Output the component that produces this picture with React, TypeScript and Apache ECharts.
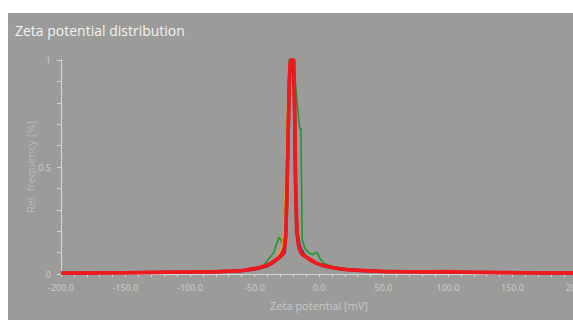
import React, { useEffect, useRef } from "react";
import * as echarts from "echarts";

const titleText = "Zeta potential distribution";
const xName = "Zeta potential [mV]";
const yName = "Rel. frequency [%]";

// [zeta potential mV, relative frequency]
const greenSeries: [number, number][] = [
  [-200, 0.004], [-150, 0.006], [-100, 0.009], [-80, 0.011], [-60, 0.016], [-50, 0.022],
  [-44, 0.035], [-39, 0.07], [-35, 0.1], [-33, 0.14], [-31, 0.17], [-29.5, 0.16],
  [-28.5, 0.14], [-27, 0.18], [-26, 0.32], [-25, 0.56], [-24, 0.85], [-23, 1.0],
  [-21, 1.0], [-19, 0.95], [-17, 0.8], [-15, 0.68], [-14, 0.68], [-13.5, 0.4],
  [-13, 0.16], [-11, 0.12], [-8, 0.1], [-5, 0.09], [-3, 0.1], [-1.5, 0.1],
  [1, 0.07], [4, 0.05], [8, 0.04], [12, 0.033], [16, 0.03], [22, 0.022],
  [30, 0.018], [40, 0.014], [60, 0.01], [80, 0.009], [100, 0.008], [130, 0.006],
  [160, 0.005], [200, 0.004],
];

const navySeries: [number, number][] = [
  [-200, 0.004], [-150, 0.006], [-100, 0.009], [-80, 0.011], [-60, 0.015], [-50, 0.02],
  [-44, 0.03], [-39, 0.045], [-34, 0.065], [-30, 0.09], [-28, 0.12], [-26.5, 0.2],
  [-25.5, 0.4], [-24.5, 0.65], [-23.5, 0.92], [-22.5, 1.0], [-20.5, 1.0], [-19.5, 0.85],
  [-18.5, 0.55], [-17.5, 0.3], [-16, 0.18], [-14.5, 0.13], [-13, 0.11], [-11, 0.09],
  [-8, 0.07], [-5, 0.06], [-2, 0.05], [2, 0.04], [8, 0.03], [15, 0.022],
  [25, 0.017], [40, 0.012], [60, 0.009], [80, 0.008], [95, 0.01], [100, 0.012],
  [105, 0.008], [130, 0.006], [160, 0.005], [200, 0.004],
];

const orangeSeries: [number, number][] = [
  [-200, 0.004], [-150, 0.006], [-100, 0.009], [-80, 0.011], [-60, 0.016], [-50, 0.022],
  [-42, 0.035], [-36, 0.055], [-32, 0.085], [-29, 0.12], [-27.5, 0.18], [-26.5, 0.3],
  [-25.5, 0.5], [-24.5, 0.75], [-23.5, 0.95], [-22.5, 1.0], [-20.5, 1.0], [-19.5, 0.8],
  [-18.5, 0.45], [-17.5, 0.22], [-16, 0.14], [-14, 0.1], [-11, 0.08], [-7, 0.06],
  [-3, 0.05], [2, 0.038], [8, 0.03], [15, 0.022], [25, 0.016], [40, 0.012],
  [60, 0.009], [80, 0.008], [100, 0.007], [130, 0.006], [160, 0.005], [200, 0.004],
];

const darkRedSeries: [number, number][] = [
  [-200, 0.004], [-150, 0.006], [-100, 0.009], [-80, 0.011], [-60, 0.015], [-54, 0.02],
  [-47, 0.027], [-41, 0.037], [-36, 0.052], [-31, 0.075], [-28.5, 0.09], [-27, 0.1],
  [-25.8, 0.17], [-25, 0.35], [-24, 0.62], [-23, 0.9], [-22, 1.0], [-20, 1.0],
  [-19, 0.8], [-18.3, 0.45], [-17.3, 0.2], [-15.8, 0.13], [-14, 0.1], [-10, 0.08],
  [-6, 0.065], [-2, 0.05], [3, 0.04], [8, 0.033], [15, 0.025], [23, 0.02],
  [35, 0.015], [50, 0.012], [70, 0.01], [90, 0.009], [110, 0.008], [140, 0.006],
  [170, 0.005], [200, 0.004],
];

const redSeries: [number, number][] = [
  [-200, 0.004], [-150, 0.006], [-100, 0.009], [-80, 0.011], [-60, 0.015], [-54, 0.022],
  [-47, 0.03], [-41, 0.04], [-36, 0.056], [-31, 0.078], [-28.5, 0.095], [-27, 0.11],
  [-25.6, 0.2], [-24.8, 0.4], [-23.8, 0.68], [-22.8, 0.95], [-22, 1.0], [-19.5, 1.0],
  [-18.8, 0.75], [-18, 0.4], [-17, 0.2], [-15.5, 0.12], [-13, 0.09], [-10, 0.08],
  [-6, 0.062], [-2, 0.05], [3, 0.04], [8, 0.033], [15, 0.026], [23, 0.02],
  [35, 0.016], [50, 0.012], [70, 0.011], [90, 0.011], [100, 0.012], [110, 0.009],
  [140, 0.007], [170, 0.005], [200, 0.004],
];

const seriesList: { name: string; color: string; width: number; data: [number, number][] }[] = [
  { name: "Run 1", color: "#1e9a2c", width: 1.6, data: greenSeries },
  { name: "Run 2", color: "#3b2f7e", width: 1.6, data: navySeries },
  { name: "Run 3", color: "#f39a1c", width: 1.8, data: orangeSeries },
  { name: "Run 4", color: "#c81420", width: 3.5, data: darkRedSeries },
  { name: "Run 5", color: "#ee1a1f", width: 3.5, data: redSeries },
];

export default function App() {
  const ref = useRef<HTMLDivElement>(null);
  useEffect(() => {
    if (!ref.current) return;
    const chart = echarts.init(ref.current, undefined, { renderer: "svg" });
    const axisColor = "#d6d6d6";
    const labelColor = "#cfcfcf";
    chart.setOption({
      animation: false,
      backgroundColor: "#9b9b9a",
      textStyle: { fontFamily: "Open Sans" },
      title: {
        text: titleText,
        left: 7,
        top: 10,
        padding: 0,
        textStyle: { color: "#f2f2f2", fontSize: 14, fontWeight: "normal", fontFamily: "Open Sans" },
      },
      grid: { left: 53, top: 47, right: 0, bottom: 46, containLabel: false, outerBoundsMode: "none" },
      xAxis: {
        type: "value",
        min: -200,
        max: 200,
        interval: 10,
        name: xName,
        nameLocation: "middle",
        nameGap: 26,
        nameMoveOverlap: false,
        nameTextStyle: { color: "#c9c9c9", fontSize: 11 },
        axisLine: { show: true, onZero: false, lineStyle: { color: axisColor, width: 1 } },
        axisTick: { show: true, length: 3, lineStyle: { color: axisColor } },
        axisLabel: {
          color: labelColor,
          fontSize: 9,
          margin: 9,
          formatter: (v: number) => (Math.abs(v % 50) < 1e-6 ? v.toFixed(1) : ""),
        },
        splitLine: { show: false },
      },
      yAxis: {
        type: "value",
        min: 0,
        max: 1,
        interval: 0.1,
        name: yName,
        nameLocation: "middle",
        nameGap: 25,
        nameMoveOverlap: false,
        nameTextStyle: { color: "#b9b9b9", fontSize: 11 },
        axisLine: { show: true, onZero: false, lineStyle: { color: axisColor, width: 1 } },
        axisTick: { show: true, length: 4, lineStyle: { color: axisColor } },
        axisLabel: {
          color: labelColor,
          fontSize: 9,
          margin: 10,
          formatter: (v: number) => {
            const d = v * 2;
            if (Math.abs(d - Math.round(d)) > 1e-6) return "";
            const r = Math.round(d) / 2;
            return String(r);
          },
        },
        splitLine: { show: false },
      },
      series: seriesList.map((s) => ({
        name: s.name,
        type: "line",
        data: s.data,
        showSymbol: false,
        symbol: "none",
        clip: true,
        lineStyle: { color: s.color, width: s.width, join: "round" },
        itemStyle: { color: s.color },
      })),
    });
    return () => chart.dispose();
  }, []);
  return (
    <div style={{ position: "absolute", left: 8, top: 13, width: 565, height: 307, overflow: "hidden" }}>
      <div ref={ref} style={{ width: 569, height: 307 }} />
    </div>
  );
}
